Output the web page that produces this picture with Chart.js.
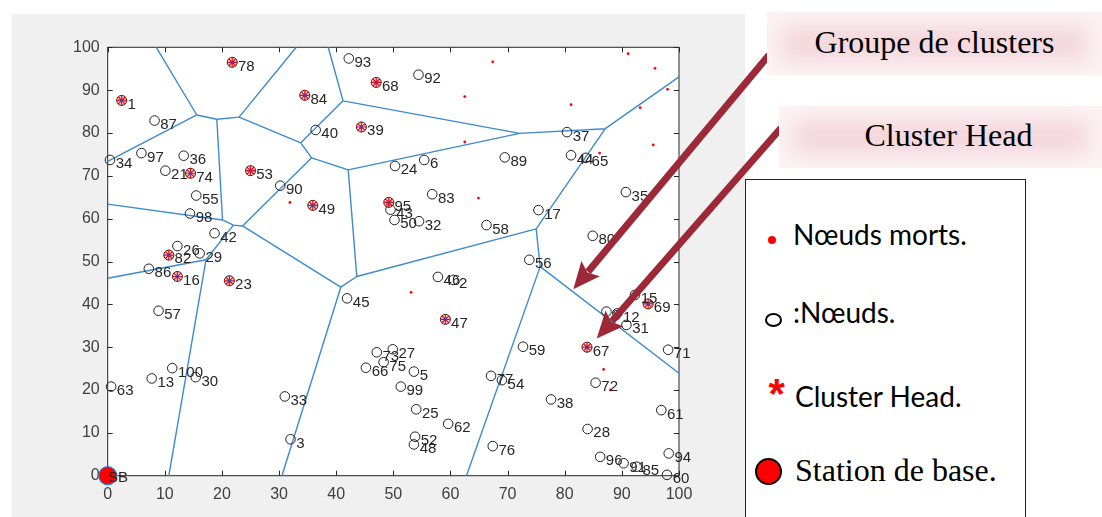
<!DOCTYPE html>
<html>
<head>
<meta charset="utf-8">
<title>Clusters</title>
<script src="https://cdn.jsdelivr.net/npm/chart.js@4.4.1/dist/chart.umd.min.js"></script>
<style>
  html, body { margin: 0; padding: 0; background: #fff; }
  #wrap { position: relative; width: 1102px; height: 517px; overflow: hidden; }
  #chart { position: absolute; left: 0; top: 0; }
  .note {
    position: absolute;
    font-family: "Liberation Serif", "Times New Roman", serif;
    font-size: 32px;
    color: #000;
    background: #f3d6dc;
    box-shadow: inset 0 0 22px 14px #fcf3f5;
    display: flex; align-items: center; justify-content: center;
    white-space: nowrap;
  }
  .legend-box {
    position: absolute; left: 745px; top: 179px; width: 281px; height: 360px;
    border: 1.5px solid #222; box-sizing: border-box; background: #fff;
  }
  .lg-text {
    position: absolute; white-space: nowrap; color: #000;
    font-family: Lato, "Noto Sans", sans-serif; font-size: 28px; line-height: 28px;
  }
  .lg-serif {
    position: absolute; white-space: nowrap; color: #000;
    font-family: "Liberation Serif", "Times New Roman", serif; font-size: 32px; line-height: 32px;
  }
  .mk { position: absolute; box-sizing: border-box; border-radius: 50%; }
  .star {
    position: absolute; color: #f00; font-weight: bold; line-height: 42px;
    font-family: "Liberation Sans", Arial, sans-serif; font-size: 42px;
  }
</style>
</head>
<body>
<div id="wrap">
  <canvas id="chart" width="1102" height="517"></canvas>

  <div class="note" style="left:767px; top:12px; width:335px; height:63px; padding-bottom:3px; box-sizing:border-box;">Groupe de clusters</div>
  <div class="note" style="left:779px; top:106px; width:323px; height:62px; padding-left:16px; padding-bottom:3px; box-sizing:border-box;">Cluster Head</div>

  <div class="legend-box"></div>
  <div class="mk" style="left:768px; top:236px; width:8px; height:8px; background:#f00;"></div>
  <div class="lg-text" style="left:793px; top:219.5px;">Nœuds morts.</div>
  <div class="mk" style="left:764.5px; top:313px; width:17px; height:14px; border:2px solid #000; background:#fff;"></div>
  <div class="lg-text" style="left:793px; top:298px;">:Nœuds.</div>
  <div class="star" style="left:768.5px; top:373px;">*</div>
  <div class="lg-text" style="left:795px; top:381.5px;">Cluster Head.</div>
  <div class="mk" style="left:755px; top:458px; width:27px; height:27px; border:2px solid #000; background:#f00;"></div>
  <div class="lg-serif" style="left:795px; top:454px;">Station de base.</div>
</div>

<script>
// ---- field data (coordinates in metres, 100 x 100 field) ----
const tickValues = [0, 10, 20, 30, 40, 50, 60, 70, 80, 90, 100];

// alive sensor nodes
const nodeIds = [2, 3, 5, 6, 8, 12, 13, 15, 17, 21, 24, 25, 26, 27, 28, 29, 30, 31, 32, 33,
  34, 35, 36, 37, 38, 40, 42, 43, 44, 45, 46, 48, 50, 52, 54, 55, 56, 57, 58, 59,
  60, 61, 62, 63, 65, 66, 71, 72, 73, 75, 76, 77, 80, 83, 85, 86, 87, 89, 90, 91,
  92, 93, 94, 96, 97, 98, 99, 100];
const nodeX = [60.5, 32.0, 53.6, 55.4, 87.3, 89.2, 7.7, 92.3, 75.4, 10.1, 50.3, 54.0, 12.2, 49.9, 84.0, 16.1, 15.4, 90.8, 54.5, 31.0,
  0.4, 90.7, 13.3, 80.4, 77.6, 36.4, 18.7, 49.5, 81.1, 41.9, 57.8, 53.6, 50.2, 53.8, 69.0, 15.5, 73.8, 8.9, 66.3, 72.7,
  97.9, 96.9, 59.6, 0.6, 83.7, 45.2, 98.1, 85.4, 47.1, 48.3, 67.4, 67.1, 84.9, 56.8, 92.6, 7.2, 8.2, 69.5, 30.2, 90.3,
  54.4, 42.2, 98.2, 86.2, 5.9, 14.4, 51.3, 11.3];
const nodeY = [45.7, 8.5, 24.3, 73.7, 38.3, 37.9, 22.7, 42.2, 62.0, 71.2, 72.3, 15.5, 53.6, 29.5, 10.9, 51.9, 23.0, 35.2, 59.4, 18.5,
  73.7, 66.2, 74.7, 80.2, 17.8, 80.7, 56.6, 62.1, 74.8, 41.4, 46.4, 7.3, 59.7, 9.1, 22.3, 65.4, 50.4, 38.5, 58.5, 30.1,
  0.2, 15.3, 12.1, 20.8, 74.2, 25.2, 29.4, 21.7, 28.8, 26.5, 6.9, 23.3, 56.0, 65.7, 2.1, 48.3, 82.9, 74.3, 67.7, 2.9,
  93.6, 97.4, 5.2, 4.4, 75.3, 61.2, 20.8, 25.1];

// elected cluster heads
const headIds = [1, 16, 23, 39, 47, 49, 53, 67, 68, 69, 74, 78, 82, 84, 95];
const headX = [2.45, 12.2, 21.3, 44.4, 59.1, 35.9, 25.0, 83.9, 47.0, 94.6, 14.5, 21.8, 10.7, 34.5, 49.2];
const headY = [87.6, 46.5, 45.5, 81.4, 36.5, 63.1, 71.2, 30.0, 91.8, 40.1, 70.6, 96.5, 51.5, 88.8, 63.8];

// dead nodes
const deadX = [62.5, 62.5, 67.4, 91.1, 95.8, 98.0, 81.1, 93.2, 95.5, 86.1, 31.9, 64.9, 53.1, 86.8, 88.0];
const deadY = [88.5, 77.9, 96.6, 98.5, 95.1, 90.2, 86.6, 85.9, 77.2, 75.3, 63.8, 64.8, 42.8, 24.8, 20.0];

// base station
const sinkX = [0];
const sinkY = [0];
const sinkLabel = ['SB'];

// Voronoi partition of the clusters: vertices and edges
const vorVertices = {
  A: [15.6, 84.2], B: [19.1, 83.2], C: [23.0, 83.7], D: [20.1, 59.7], E: [22.0, 58.5],
  F: [23.6, 58.3], G: [33.8, 77.7], H: [41.2, 87.5], I: [35.7, 74.2], J: [72.1, 79.9],
  K: [42.1, 71.4], L: [87.1, 81.0], M: [75.0, 57.6], N: [43.6, 46.5], O: [75.7, 48.8],
  P: [40.8, 44.0], Q: [17.2, 50.4],
  t1: [8.5, 100], t2: [33.0, 100], t3: [38.6, 100],
  l1: [0, 73.4], l2: [0, 63.4], l3: [0, 46.1],
  b1: [10.7, 0], b2: [30.5, 0], b3: [62.8, 0],
  r1: [100, 93.1], r2: [100, 23.9]
};
const vorEdges = [
  ['t1', 'A'], ['l1', 'A'], ['A', 'B'], ['B', 'C'], ['C', 't2'], ['B', 'D'], ['l2', 'D'],
  ['D', 'E'], ['E', 'F'], ['E', 'Q'], ['l3', 'Q'], ['Q', 'b1'], ['F', 'I'], ['C', 'G'],
  ['G', 'H'], ['H', 't3'], ['G', 'I'], ['I', 'K'], ['K', 'J'], ['H', 'J'], ['J', 'L'],
  ['L', 'r1'], ['L', 'M'], ['K', 'N'], ['N', 'M'], ['N', 'P'], ['P', 'F'], ['P', 'b2'],
  ['M', 'O'], ['O', 'b3'], ['O', 'r2']
];

// pointers from the captions to the plot (tips in field coordinates)
const captionArrows = [
  { from: [769, 55], tip: [81.5, 43.5] },
  { from: [781, 128], tip: [85.6, 32.0] }
];

// ---- build datasets ----
const toPoints = (xs, ys) => xs.map((x, i) => ({ x: x, y: ys[i] }));

const vorData = [];
vorEdges.forEach(([a, b]) => {
  const p = vorVertices[a], q = vorVertices[b];
  vorData.push({ x: p[0], y: p[1] }, { x: q[0], y: q[1] }, { x: q[0], y: null });
});

const nodePts = toPoints(nodeX, nodeY);
const headPts = toPoints(headX, headY);
const deadPts = toPoints(deadX, deadY);
const sinkPts = toPoints(sinkX, sinkY);

const FONT = '"Liberation Sans", Arial, Helvetica, sans-serif';

// grey figure frame and white axes background
const frame = {
  id: 'frame',
  beforeDraw(chart) {
    const { ctx, chartArea: a } = chart;
    ctx.save();
    ctx.fillStyle = '#ffffff';
    ctx.fillRect(0, 0, chart.width, chart.height);
    ctx.fillStyle = '#f0f0f0';
    ctx.fillRect(12, 14, 733, chart.height - 14);
    ctx.fillStyle = '#ffffff';
    ctx.fillRect(a.left, a.top, a.right - a.left, a.bottom - a.top);
    ctx.restore();
  },
  // box around the axes with inward tick marks on all four sides
  beforeDatasetsDraw(chart) {
    const { ctx, chartArea: a, scales: { x, y } } = chart;
    ctx.save();
    ctx.strokeStyle = '#262626';
    ctx.lineWidth = 1;
    ctx.strokeRect(a.left, a.top, a.right - a.left, a.bottom - a.top);
    const len = 5;
    ctx.beginPath();
    tickValues.forEach(v => {
      const px = Math.round(x.getPixelForValue(v)) + 0.5;
      ctx.moveTo(px, a.bottom); ctx.lineTo(px, a.bottom - len);
      ctx.moveTo(px, a.top); ctx.lineTo(px, a.top + len);
      const py = Math.round(y.getPixelForValue(v)) + 0.5;
      ctx.moveTo(a.left, py); ctx.lineTo(a.left + len, py);
      ctx.moveTo(a.right, py); ctx.lineTo(a.right - len, py);
    });
    ctx.stroke();
    ctx.restore();
  }
};

// node numbers written next to each marker
const nodeLabels = {
  id: 'nodeLabels',
  afterDatasetsDraw(chart) {
    const { ctx, scales: { x, y } } = chart;
    ctx.save();
    ctx.font = '15px ' + FONT;
    ctx.fillStyle = '#262626';
    ctx.textAlign = 'left';
    ctx.textBaseline = 'middle';
    chart.data.datasets.forEach(ds => {
      if (!ds.pointLabels) return;
      const dx = ds.labelDx, dy = ds.labelDy;
      ds.data.forEach((p, i) => {
        ctx.fillText(String(ds.pointLabels[i]),
          x.getPixelForValue(p.x + dx), y.getPixelForValue(p.y + dy));
      });
    });
    ctx.restore();
  }
};

// caption arrows
const arrows = {
  id: 'arrows',
  afterDraw(chart) {
    const { ctx, scales: { x, y } } = chart;
    ctx.save();
    ctx.fillStyle = '#9c2838';
    ctx.strokeStyle = '#9c2838';
    captionArrows.forEach(a => {
      const x1 = a.from[0], y1 = a.from[1];
      const x2 = x.getPixelForValue(a.tip[0]), y2 = y.getPixelForValue(a.tip[1]);
      const ang = Math.atan2(y2 - y1, x2 - x1);
      const headLen = 27, headHalf = 12;
      const bx = x2 - headLen * Math.cos(ang), by = y2 - headLen * Math.sin(ang);
      ctx.lineWidth = 7;
      ctx.beginPath();
      ctx.moveTo(x1, y1);
      ctx.lineTo(bx + 4 * Math.cos(ang), by + 4 * Math.sin(ang));
      ctx.stroke();
      ctx.beginPath();
      ctx.moveTo(x2, y2);
      ctx.lineTo(bx - headHalf * Math.sin(ang), by + headHalf * Math.cos(ang));
      ctx.lineTo(bx + 5 * Math.cos(ang), by + 5 * Math.sin(ang));
      ctx.lineTo(bx + headHalf * Math.sin(ang), by - headHalf * Math.cos(ang));
      ctx.closePath();
      ctx.fill();
    });
    ctx.restore();
  }
};

const axisCommon = (fit) => ({
  type: 'linear', min: 0, max: 100,
  grid: { display: false, drawTicks: false },
  border: { display: false },
  afterFit: fit,
  afterBuildTicks(scale) { scale.ticks = tickValues.map(v => ({ value: v })); }
});

new Chart(document.getElementById('chart'), {
  type: 'scatter',
  data: {
    datasets: [
      { // base station
        data: sinkPts, order: 0, clip: false,
        pointStyle: 'circle', pointRadius: 9, pointHoverRadius: 9,
        backgroundColor: '#ff0000', borderColor: '#2f7fd0', borderWidth: 1.2,
        pointLabels: sinkLabel, labelDx: 0.05, labelDy: -0.6
      },
      { // cluster heads: blue centre
        data: headPts, order: 1, clip: false,
        pointStyle: 'circle', pointRadius: 1.6, pointHoverRadius: 1.6,
        backgroundColor: '#1f4fd8', borderColor: '#1f4fd8', borderWidth: 0
      },
      { // cluster heads: red asterisk
        data: headPts, order: 2, clip: false,
        pointStyle: 'star', pointRadius: 5.2, pointHoverRadius: 5.2,
        borderColor: '#ff0000', borderWidth: 1.2
      },
      { // cluster heads: ring
        data: headPts, order: 3, clip: false,
        pointStyle: 'circle', pointRadius: 5, pointHoverRadius: 5,
        backgroundColor: 'rgba(255,0,0,0.15)', borderColor: '#222', borderWidth: 1,
        pointLabels: headIds, labelDx: 1, labelDy: -1
      },
      { // alive nodes
        data: nodePts, order: 4, clip: false,
        pointStyle: 'circle', pointRadius: 4.8, pointHoverRadius: 4.8,
        backgroundColor: 'rgba(0,0,0,0)', borderColor: '#222', borderWidth: 1,
        pointLabels: nodeIds, labelDx: 1, labelDy: -1
      },
      { // dead nodes
        data: deadPts, order: 5, clip: false,
        pointStyle: 'circle', pointRadius: 1.4, pointHoverRadius: 1.4,
        backgroundColor: '#ff0000', borderColor: '#ff0000', borderWidth: 0
      },
      { // cluster boundaries
        data: vorData, order: 6, showLine: true, spanGaps: false,
        pointRadius: 0, pointHoverRadius: 0,
        borderColor: '#3d8ad0', borderWidth: 1.4, clip: false
      }
    ]
  },
  options: {
    responsive: false,
    animation: false,
    events: [],
    layout: { padding: { left: 0, top: 47.3, right: 423, bottom: 0 } },
    plugins: { legend: { display: false }, tooltip: { enabled: false } },
    scales: {
      x: Object.assign(axisCommon(s => { s.height = 41.3; }), {
        ticks: { color: '#404040', font: { family: FONT, size: 16 }, padding: 9, autoSkip: false, maxRotation: 0 }
      }),
      y: Object.assign(axisCommon(s => { s.width = 107.7; }), {
        ticks: { color: '#404040', font: { family: FONT, size: 16 }, padding: 8, autoSkip: false }
      })
    }
  },
  plugins: [frame, nodeLabels, arrows]
});
</script>
</body>
</html>
